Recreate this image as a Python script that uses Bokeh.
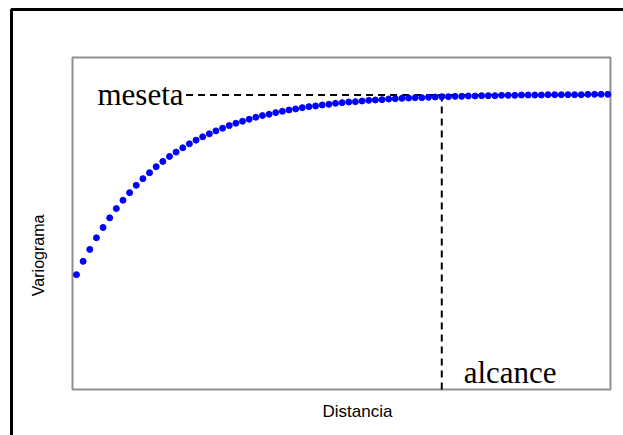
from bokeh.plotting import figure
from bokeh.models import Range1d
from bokeh.core.properties import value
from bokeh.embed import file_html
from bokeh.resources import INLINE

# Data (distance index, variogram value)
distancia = list(range(81))
variograma = [
    34.6, 38.6, 42.2, 45.7, 48.8, 51.7, 54.5, 57.0, 59.3, 61.5,
    63.5, 65.3, 67.1, 68.7, 70.2, 71.5, 72.8, 74.0, 75.1, 76.1,
    77.0, 77.9, 78.7, 79.5, 80.2, 80.8, 81.4, 82.0, 82.5, 82.9,
    83.4, 83.8, 84.2, 84.5, 84.9, 85.2, 85.4, 85.7, 85.9, 86.2,
    86.4, 86.6, 86.7, 86.9, 87.1, 87.2, 87.3, 87.5, 87.6, 87.7,
    87.8, 87.9, 87.9, 88.0, 88.1, 88.2, 88.2, 88.3, 88.3, 88.4,
    88.4, 88.5, 88.5, 88.5, 88.6, 88.6, 88.6, 88.7, 88.7, 88.7,
    88.7, 88.8, 88.8, 88.8, 88.8, 88.8, 88.8, 88.9, 88.9, 88.9,
    88.9,
]
meseta_valor = 88.7
alcance_valor = 55.0
rotulo_meseta = "meseta"
rotulo_alcance = "alcance"
titulo_x = "Distancia"
titulo_y = "Variograma"

# Frame covers the whole canvas; ranges chosen so the inner box sits where it should
x0, x1 = -0.6, 80.4      # inner plot box in data units
y0, y1 = 0.0, 100.0

p = figure(width=623, height=435, output_backend="svg", toolbar_location=None,
           x_range=Range1d(-11.44, 82.36), y_range=Range1d(-13.855, 117.17),
           min_border=0, min_border_left=0, min_border_right=0,
           min_border_top=0, min_border_bottom=0)
p.axis.visible = False
p.grid.visible = False
p.outline_line_color = None
p.background_fill_color = "white"
p.border_fill_color = "white"

# outer thick frame (extends past right/bottom edge)
p.quad(left=[-9.78], right=[95], bottom=[-25], top=[114.46],
       fill_color=None, line_color="black", line_width=3)

# inner plot box
p.quad(left=[x0], right=[x1], bottom=[y0], top=[y1],
       fill_color=None, line_color="#8f8f8f", line_width=2)

# sill and range dashed lines
p.line([16.5, x1], [meseta_valor, meseta_valor], line_color="black",
       line_width=2, line_dash="7 5")
p.line([alcance_valor, alcance_valor], [y0, meseta_valor], line_color="black",
       line_width=2, line_dash="7 5")

# variogram points
p.scatter(distancia, variograma, marker="circle", size=6,
          fill_color="#0000ff", line_color="#0000ff")

# annotations
p.text(x=[3.16], y=[88.9], text=[rotulo_meseta], text_font=value("Liberation Serif"),
       text_font_size="31px", text_color="black", text_baseline="alphabetic",
       text_align="left")
p.text(x=[58.3], y=[5.1], text=[rotulo_alcance], text_font=value("Liberation Serif"),
       text_font_size="31px", text_color="black", text_baseline="alphabetic",
       text_align="left")

# axis titles
p.text(x=[42.3], y=[-6.6], text=[titulo_x], text_font=value("Liberation Sans"),
       text_font_size="17px", text_color="black", text_baseline="middle",
       text_align="center")
p.text(x=[-5.7], y=[40.4], text=[titulo_y], text_font=value("Liberation Sans"),
       text_font_size="16px", text_color="black", text_baseline="middle",
       text_align="center", angle=1.5708)

open("out.html", "w").write(file_html(p, INLINE))
